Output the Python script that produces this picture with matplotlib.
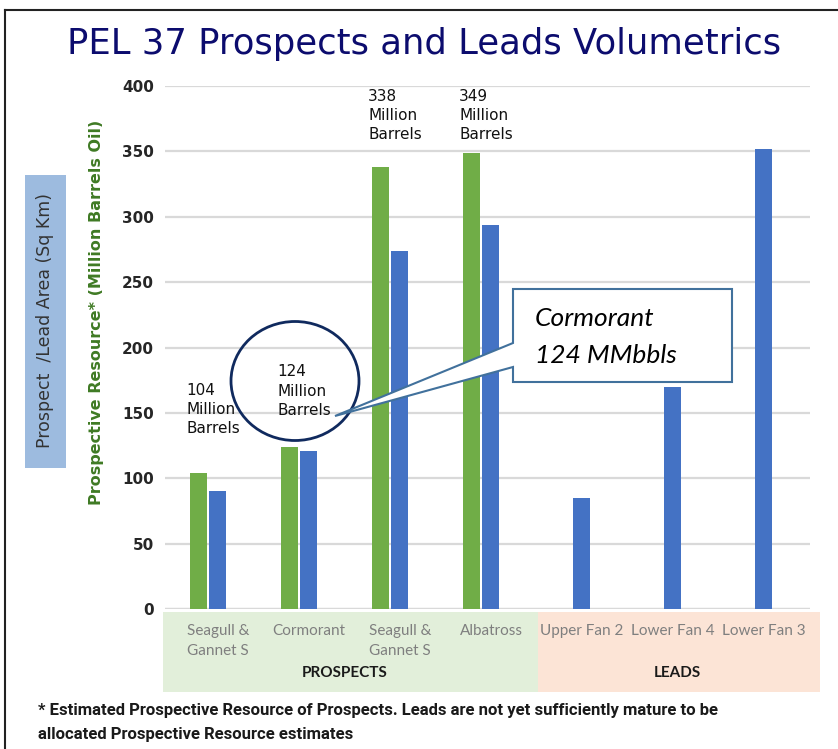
import matplotlib
matplotlib.use("Agg")
import matplotlib.pyplot as plt
from matplotlib.patches import Rectangle, Ellipse, Polygon
from matplotlib.lines import Line2D
import numpy as np

# ---- data ----
categories = ["Seagull &\nGannet S", "Cormorant", "Seagull &\nGannet S", "Albatross",
              "Upper Fan 2", "Lower Fan 4", "Lower Fan 3"]
resource_mmbbl = [104, 124, 338, 349]            # green (prospects only)
area_sqkm = [90, 121, 274, 294, 85, 170, 352]    # blue
yticks = [0, 50, 100, 150, 200, 250, 300, 350, 400]
groups = ["PROSPECTS", "LEADS"]

W, H = 838, 749
fig = plt.figure(figsize=(W / 100, H / 100), dpi=100)
fig.patch.set_facecolor("white")

def fx(px):
    return px / W

def fy(py):
    return 1 - py / H

# axes placement
ax_left, ax_right = 165, 810
ax_top, ax_bot = 86, 609
ax = fig.add_axes([fx(ax_left), fy(ax_bot), fx(ax_right - ax_left), (ax_bot - ax_top) / H])
ax.set_facecolor("none")
ax.set_ylim(0, 400)
ax.set_xlim(-0.4725, 6.615)

x = np.arange(len(categories))
off, bw = 0.104, 0.187
green = "#70ad47"
blue = "#4472c4"

for yv in yticks[1:]:
    ax.axhline(yv, color="#d9d9d9", lw=1.6, zorder=0)
ax.axhline(0, color="#d9d9d9", lw=2.5, zorder=0)

ax.bar(x[:len(resource_mmbbl)] - off, resource_mmbbl, width=bw, color=green, zorder=2)
ax.bar(x + off, area_sqkm, width=bw, color=blue, zorder=2)

for s in ax.spines.values():
    s.set_visible(False)
ax.set_xticks([])
ax.set_yticks(yticks)
ax.set_yticklabels([str(t) for t in yticks], fontsize=11, fontweight="bold", color="#262626")
ax.tick_params(axis="y", length=0, pad=8)

# value labels for prospects
label_tops = [173, 187, 398, 398]
for i, v in enumerate(resource_mmbbl):
    ax.text(i - off - 0.135, label_tops[i], f"{v:.0f}\nMillion\nBarrels", ha="left", va="top",
            fontsize=11, color="#111111", linespacing=1.35, zorder=5,
            family="DejaVu Sans")

# category bands (figure coords)
band_top, band_bot = 612, 692
fig.patches.append(Rectangle((fx(163), fy(band_bot)), fx(538 - 163), (band_bot - band_top) / H,
                             transform=fig.transFigure, facecolor="#e2efda", edgecolor="none", zorder=0))
fig.patches.append(Rectangle((fx(538), fy(band_bot)), fx(820 - 538), (band_bot - band_top) / H,
                             transform=fig.transFigure, facecolor="#fce4d6", edgecolor="none", zorder=0))

# category labels
for i, c in enumerate(categories):
    xd = ax.transData.transform((i + 0.11, 0))[0]
    xf = fig.transFigure.inverted().transform((xd, 0))[0]
    fig.text(xf, fy(624), c, ha="center", va="top", fontsize=11, color="#7f7f7f",
             linespacing=1.55, family="Lato")
fig.text(fx(345), fy(673), groups[0], ha="center", va="center", fontsize=11, fontweight="bold",
         color="#1a1a1a", family="Lato")
fig.text(fx(677), fy(673), groups[1], ha="center", va="center", fontsize=11, fontweight="bold",
         color="#1a1a1a", family="Lato")

# title
fig.text(fx(424), fy(44), "PEL 37 Prospects and Leads Volumetrics", ha="center", va="center",
         fontsize=25.5, color="#0c0c6e", family="DejaVu Sans")

# y-axis labels
fig.text(fx(97), fy(312), "Prospective Resource* (Million Barrels Oil)", rotation=90,
         ha="center", va="center", fontsize=11.5, fontweight="bold", color="#3f7a24",
         family="DejaVu Sans")
fig.patches.append(Rectangle((fx(25), fy(468)), fx(41), (468 - 175) / H,
                             transform=fig.transFigure, facecolor="#9dbbdf", edgecolor="none"))
fig.text(fx(45.5), fy(321), "Prospect  /Lead Area (Sq Km)", rotation=90, ha="center", va="center",
         fontsize=12.5, color="#333333", family="DejaVu Sans")

# ellipse around Cormorant label
fig.patches.append(Ellipse((fx(295), fy(381)), fx(128), 119 / H, transform=fig.transFigure,
                           facecolor="none", edgecolor="#102a5e", lw=2, zorder=6))

# callout box
bx0, bx1, by0, by1 = 513, 732, 289, 382
callout = [(bx0, 343), (bx0, by0), (bx1, by0), (bx1, by1), (bx0, by1), (bx0, 367), (335, 416)]
fig.patches.append(Polygon([(fx(a), fy(b)) for a, b in callout], closed=True, transform=fig.transFigure,
                           facecolor="white", edgecolor="#41719c", lw=1.5, zorder=7))
fig.text(fx(535), fy(318), "Cormorant", ha="left", va="center", fontsize=19, style="italic",
         color="black", family="Lato", zorder=8)
fig.text(fx(535), fy(356), "124 MMbbls", ha="left", va="center", fontsize=19, style="italic",
         color="black", family="Lato", zorder=8)

# footer
fig.text(fx(38), fy(711), "* Estimated Prospective Resource of Prospects. Leads are not yet sufficiently mature to be",
         ha="left", va="center", fontsize=12, fontweight="bold", color="#1a1a1a", family="Roboto")
fig.text(fx(38), fy(734), "allocated Prospective Resource estimates",
         ha="left", va="center", fontsize=12, fontweight="bold", color="#1a1a1a", family="Roboto")

# slide frame (top and left border)
fig.lines.append(Line2D([fx(5), fx(5)], [fy(10), 0], transform=fig.transFigure, color="#222222", lw=1.5))
fig.lines.append(Line2D([fx(5), 1], [fy(10), fy(10)], transform=fig.transFigure, color="#222222", lw=1.5))

fig.savefig("out.png", dpi=100, facecolor="white")
